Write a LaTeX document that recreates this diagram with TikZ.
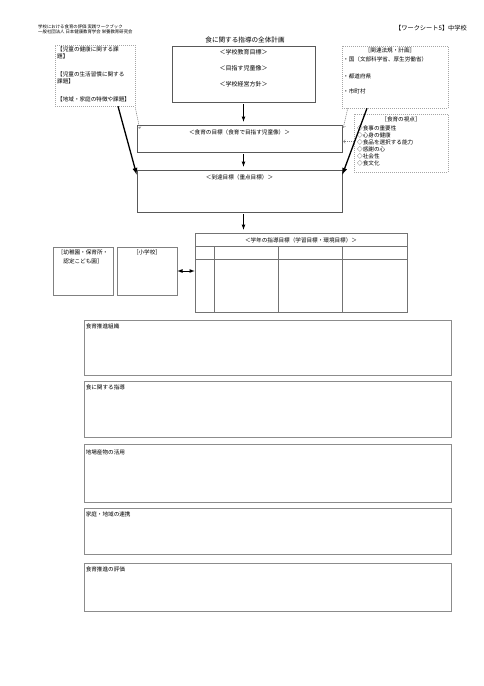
\documentclass[tikz,border=0pt]{standalone}
\usepackage{fontspec}
\setmainfont{Noto Sans CJK JP}
\usetikzlibrary{arrows,positioning,calc}

\begin{document}
\begin{tikzpicture}[
    x=1pt, y=-1pt,
    solidbox/.style={rectangle, draw=black!65, line width=0.6pt, inner sep=0pt},
    note/.style={rectangle, draw=black!35, dash pattern=on 1pt off 1pt, line width=0.5pt, inner sep=0pt},
    sheet/.style={rectangle, draw=black!45, line width=0.9pt, inner sep=0pt, minimum width=367pt},
    txt/.style={font=\fontsize{5.6}{7}\selectfont, inner sep=0pt, align=left},
    flow/.style={-latex, line width=0.8pt, shorten <=2pt, shorten >=3pt},
    feed/.style={-latex, line width=1.3pt},
    hint/.style={->, draw=black!50, dash pattern=on 1.2pt off 0.8pt, line width=0.5pt},
    grid/.style={draw=black!55, line width=0.6pt}
]
    \path[use as bounding box, fill=white] (0,0) rectangle (484,686);

    % En-tete
    \node[txt, anchor=west, font=\fontsize{4.4}{5.2}\selectfont] (book) at (38,29.5) {学校における食育の評価\ 実践ワークブック\\一般社団法人\ 日本健康教育学会\ 栄養教育研究会};
    \node[txt, anchor=east, font=\fontsize{6.2}{7}\selectfont] (sheetno) at (467,28) {【ワークシート5】中学校};
    \node[txt, font=\fontsize{6.6}{8}\selectfont] (title) at (245,40) {食に関する指導の全体計画};

    % Cadres du haut
    \node[note, minimum width=80pt, minimum height=61pt] (issues) at (95,75.5) {};
    \node[txt, anchor=north west] (issuestxt) at (57,47) {【児童の健康に関する課\\題】\\[11pt]【児童の生活習慣に関する\\課題】\\[11pt]【地域・家庭の特徴や課題】};

    \node[solidbox, minimum width=143pt, minimum height=56pt] (plan) at (243.5,74) {};
    \node[txt, align=center, font=\fontsize{6}{16}\selectfont, anchor=north] (plantxt) at (243.5,49) {＜学校教育目標＞\\＜目指す児童像＞\\＜学校経営方針＞};

    \node[note, minimum width=106pt, minimum height=62pt] (laws) at (395,77) {};
    \node[txt, anchor=north] (lawshead) at (390,48) {［関連法規・計画］};
    \node[txt, anchor=north west] (lawstxt) at (343,57) {・国（文部科学省、厚生労働省）\\[10pt]・都道府県\\[8pt]・市町村};

    % Objectifs
    \node[solidbox, minimum width=205pt, minimum height=27pt] (aim) at (239.5,138.5) {};
    \node[txt, below=4.5pt of aim.north] (aimtxt) {＜食育の目標（食育で目指す児童像）＞};

    \node[note, minimum width=94pt, minimum height=58pt] (views) at (401,143) {};
    \node[txt, anchor=north] (viewshead) at (401,117) {［食育の視点］};
    \node[txt, anchor=north west] (viewstxt) at (357,125) {◇食事の重要性\\◇心身の健康\\◇食品を選択する能力\\◇感謝の心\\◇社会性\\◇食文化};

    \node[solidbox, minimum width=205pt, minimum height=42pt] (reach) at (239.5,191) {};
    \node[txt, below=4.5pt of reach.north] (reachtxt) {＜到達目標（重点目標）＞};

    % Ecoles et tableau
    \node[solidbox, draw=black!50, minimum width=60pt, minimum height=48pt] (kinder) at (83,271) {};
    \node[txt, align=center, font=\fontsize{5.6}{8.5}\selectfont, below=3pt of kinder.north] (kindertxt) {［幼稚園・保育所・\\認定こども園］};
    \node[solidbox, draw=black!50, minimum width=60pt, minimum height=48pt] (elem) at (147,271) {};
    \node[txt, below=3pt of elem.north] (elemtxt) {［小学校］};

    \node[solidbox, draw=black!55, minimum width=212pt, minimum height=79pt] (tbl) at (301,272.5) {};
    \node[txt, below=4.5pt of tbl.north] (tblhead) {＜学年の指導目標（学習目標・環境目標）＞};
    \draw[grid] (195,246) -- (407,246);
    \draw[grid] (195,259) -- (407,259);
    \draw[grid] (214,246) -- (214,312);
    \draw[grid] (278,246) -- (278,312);
    \draw[grid] (342,246) -- (342,312);

    % Cadres du bas
    \node[sheet, minimum height=55pt] (org) at (267.5,347.5) {};
    \node[txt, anchor=north west] (orgtxt) at ([shift={(2pt,-4pt)}]org.north west) {食育推進組織};
    \node[sheet, minimum height=56pt] (guide) at (267.5,409) {};
    \node[txt, anchor=north west] (guidetxt) at ([shift={(2pt,-4pt)}]guide.north west) {食に関する指導};
    \node[sheet, minimum height=58pt] (local) at (267.5,473) {};
    \node[txt, anchor=north west] (localtxt) at ([shift={(2pt,-6pt)}]local.north west) {地場産物の活用};
    \node[sheet, minimum height=46pt] (home) at (267.5,531) {};
    \node[txt, anchor=north west] (hometxt) at ([shift={(2pt,-4pt)}]home.north west) {家庭・地域の連携};
    \node[sheet, minimum height=48pt] (review) at (267.5,587) {};
    \node[txt, anchor=north west] (reviewtxt) at ([shift={(2pt,-4pt)}]review.north west) {食育推進の評価};

    % Fleches
    \draw[flow] (plan.south) -- (plan.south |- aim.north);
    \draw[flow] (plan.south |- aim.south) -- (plan.south |- reach.north);
    \draw[flow] (plan.south |- reach.south) -- (plan.south |- tbl.north);
    \draw[feed] ([xshift=23pt]issues.south) -- ([yshift=-5pt]reach.north west);
    \draw[feed] ([xshift=-28pt]laws.south) -- ([yshift=-5pt]reach.north east);
    \draw[hint] ([yshift=-1pt]issues.south east) -- ([shift={(3pt,-4pt)}]aim.north west);
    \draw[hint] ([xshift=6pt]laws.south west) -- ([shift={(1pt,-3pt)}]aim.north east);
    \draw[hint] ([shift={(12pt,-3pt)}]aim.east) -- ([shift={(1pt,-3pt)}]aim.east);
    \draw[latex-latex, line width=0.8pt] (elem.east) -- (elem.east -| tbl.west);

\end{tikzpicture}
\end{document}
